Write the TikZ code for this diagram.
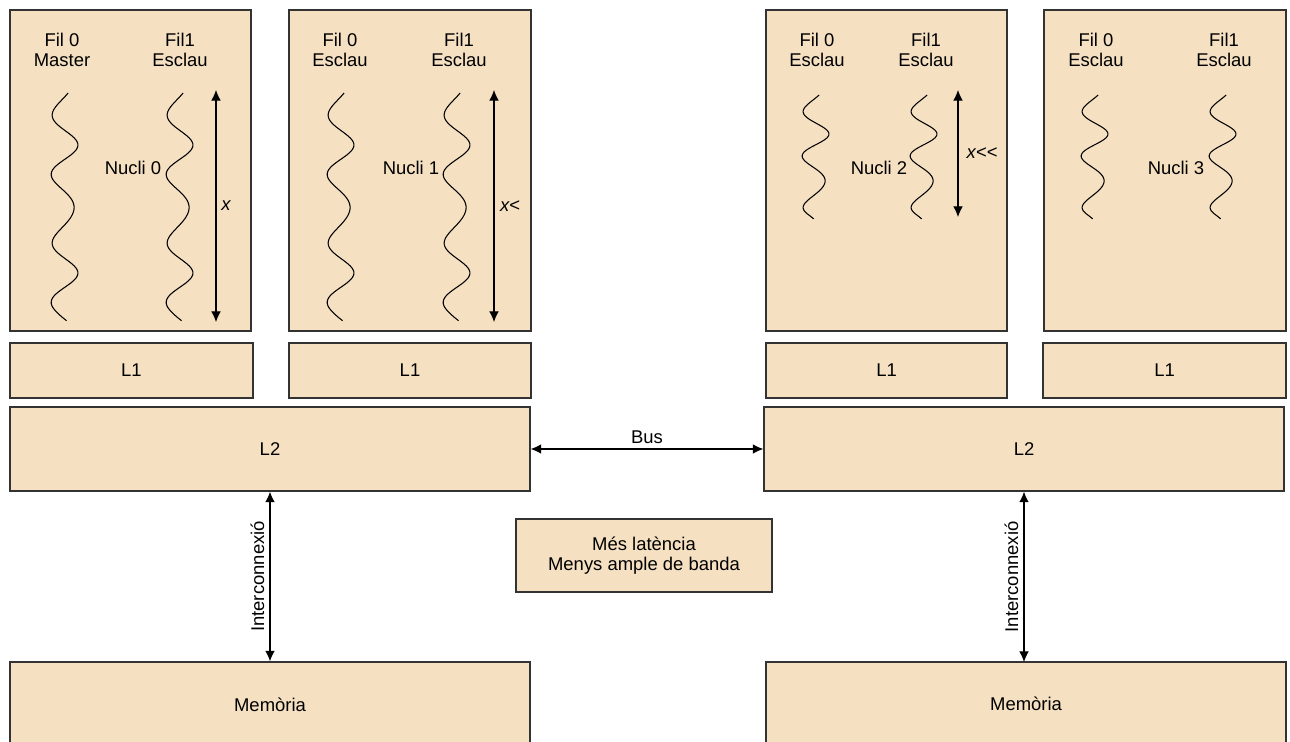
\documentclass[tikz,border=0pt]{standalone}
\usepackage{fontspec}
\setmainfont{Liberation Sans}
\usepackage{xcolor}
\usetikzlibrary{arrows.meta}
\definecolor{boxFill}{HTML}{F5E1C2}
\definecolor{boxLine}{HTML}{333333}

\begin{document}
\begin{tikzpicture}[x=0.02cm, y=-0.02cm,
    font=\fontsize{10.5}{11.3}\selectfont,
    unit/.style={draw=boxLine, fill=boxFill, line width=0.8pt, inner sep=0pt},
    label/.style={align=center, inner sep=0pt},
    dbl/.style={{Latex[length=6pt, width=5.5pt]}-{Latex[length=6pt, width=5.5pt]}, line width=0.6pt},
    wave/.style={line width=0.6pt}]
    \useasboundingbox (0,0) rectangle (1290,742);
    \clip (0,0) rectangle (1290,742);

    % cores
    \node[unit, minimum width=4.82cm, minimum height=6.42cm] (core0) at (130.5,170.5) {};
    \node[unit, minimum width=4.84cm, minimum height=6.42cm] (core1) at (410,170.5) {};
    \node[unit, minimum width=4.82cm, minimum height=6.42cm] (core2) at (886.5,170.5) {};
    \node[unit, minimum width=4.84cm, minimum height=6.42cm] (core3) at (1165,170.5) {};

    % L1 caches
    \node[unit, minimum width=4.86cm, minimum height=1.10cm] (l1a) at (131.5,370.5) {L1};
    \node[unit, minimum width=4.84cm, minimum height=1.10cm] (l1b) at (410,370.5) {L1};
    \node[unit, minimum width=4.82cm, minimum height=1.10cm] (l1c) at (886.5,370.5) {L1};
    \node[unit, minimum width=4.86cm, minimum height=1.10cm] (l1d) at (1164.5,370.5) {L1};

    % L2 caches
    \node[unit, minimum width=10.40cm, minimum height=1.68cm] (l2a) at (270,449) {L2};
    \node[unit, minimum width=10.40cm, minimum height=1.68cm] (l2b) at (1024,449) {L2};

    % memories
    \node[unit, minimum width=10.40cm, minimum height=1.72cm] (mema) at (270,705) {Memòria};
    \node[unit, minimum width=10.40cm, minimum height=1.72cm] (memb) at (1026,705) {};
    \node[label] (memtxt) at (1026,704) {Memòria};

    % note
    \node[unit, label, minimum width=5.12cm, minimum height=1.46cm] (note) at (644,555.5)
        {Més latència\\Menys ample de banda};

    % thread labels
    \node[label] (t00) at (62,50) {Fil 0\\Master};
    \node[label] (t01) at (180,50) {Fil1\\Esclau};
    \node[label] (t10) at (340,50) {Fil 0\\Esclau};
    \node[label] (t11) at (459,50) {Fil1\\Esclau};
    \node[label] (t20) at (817,50) {Fil 0\\Esclau};
    \node[label] (t21) at (926,50) {Fil1\\Esclau};
    \node[label] (t30) at (1096,50) {Fil 0\\Esclau};
    \node[label] (t31) at (1224,50) {Fil1\\Esclau};

    \node[label] (n0) at (133,168) {Nucli 0};
    \node[label] (n1) at (411,168) {Nucli 1};
    \node[label] (n2) at (879,168) {Nucli 2};
    \node[label] (n3) at (1176,168) {Nucli 3};

    % threads
    \foreach \xc/\yt/\len/\n in {64/93/224/3.5, 179/93/224/3.5, 340/93/224/3.5, 456/93/224/3.5,
                                 815/95/120/2.5, 923/95/120/2.5, 1094/95/120/2.5, 1222/95/120/2.5}
        \draw[wave] plot[domain=0:1, samples=120, smooth]
            ({\xc + 12*sin(\n*360*\x + 160) + 2*sin(\n*540*\x)}, {\yt + \len*\x})
            -- ++(5,4);

    % work spans
    \coordinate (s0a) at (216,90);  \coordinate (s0b) at (216,322);
    \coordinate (s1a) at (494,90);  \coordinate (s1b) at (494,322);
    \coordinate (s2a) at (958,90);  \coordinate (s2b) at (958,217);
    \draw[dbl] (s0a) -- (s0b);
    \draw[dbl] (s1a) -- (s1b);
    \draw[dbl] (s2a) -- (s2b);
    \node[label] (w0) at (226,206) {\itshape x};
    \node[label] (w1) at (510,206) {\itshape x<};
    \node[label] (w2) at (982,153) {\itshape x<{}<};

    % bus and interconnects
    \draw[dbl] (l2a.east) -- (l2b.west) node[midway, above=3pt, inner sep=0pt] {Bus};
    \draw[dbl] (mema.north) -- (l2a.south) node[midway, sloped, above=3pt, inner sep=0pt] {Interconnexió};
    \coordinate (mbtop) at (1024,662);
    \draw[dbl] (mbtop) -- (l2b.south) node[midway, sloped, above=3pt, inner sep=0pt] {Interconnexió};
\end{tikzpicture}
\end{document}
